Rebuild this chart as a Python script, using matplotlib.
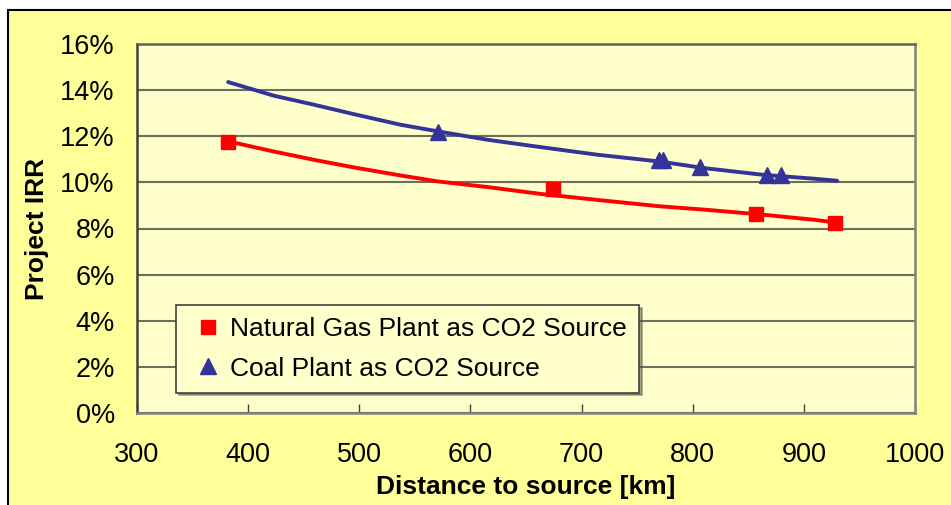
import matplotlib
matplotlib.use("Agg")
import matplotlib.pyplot as plt
from matplotlib.patches import Rectangle
from matplotlib.ticker import FuncFormatter, MultipleLocator

plt.rcParams['font.family'] = ['Liberation Sans', 'DejaVu Sans']

# Fitted curves
curve_km = [382, 423, 459, 495, 537, 571, 615, 663, 714, 771, 810, 863, 909, 930]
coal_curve = [14.35, 13.76, 13.37, 12.96, 12.50, 12.21, 11.85, 11.53, 11.20, 10.90, 10.62, 10.33, 10.16, 10.07]
gas_curve = [11.78, 11.34, 10.98, 10.65, 10.30, 10.04, 9.80, 9.50, 9.24, 8.96, 8.82, 8.60, 8.38, 8.25]

# Data points
gas_km = [382, 674, 857, 928]
gas_irr = [11.75, 9.73, 8.65, 8.24]
coal_km = [571, 770, 773, 807, 867, 879]
coal_irr = [12.20, 10.97, 10.97, 10.66, 10.30, 10.30]

series_labels = ["Natural Gas Plant as CO2 Source", "Coal Plant as CO2 Source"]
x_ticks = [300, 400, 500, 600, 700, 800, 900, 1000]

FS = 19.5
W, H = 951, 505
fig = plt.figure(figsize=(W / 100, H / 100), dpi=100, facecolor='white')

# Outer chart-area box
outer = Rectangle((8 / W, 0 - 0.01), 1.02, 1 - 10 / H + 0.01,
                  transform=fig.transFigure, facecolor='#FFFF99',
                  edgecolor='black', linewidth=1.5, zorder=-5)
fig.add_artist(outer)

ax = fig.add_axes([137 / W, 1 - 413 / H, (915 - 137) / W, (413 - 44) / H])
ax.set_zorder(2)
ax.set_facecolor('#FFFFCC')

red = '#FF0000'
blue = '#333399'

ax.plot(curve_km, coal_curve, color=blue, lw=2.8, zorder=3, solid_capstyle='round')
ax.plot(curve_km, gas_curve, color=red, lw=2.8, zorder=3, solid_capstyle='round')
ax.plot(gas_km, gas_irr, linestyle='none', marker='s', ms=10, color=red,
        label=series_labels[0], zorder=4)
ax.plot(coal_km, coal_irr, linestyle='none', marker='^', ms=11.5, color=blue,
        label=series_labels[1], zorder=4)

ax.set_xlim(300, 1000)
ax.set_ylim(0, 16)
ax.set_xticks(x_ticks)
ax.yaxis.set_major_locator(MultipleLocator(2))
ax.yaxis.set_major_formatter(FuncFormatter(lambda v, p: f"{v:.0f}%"))

ax.grid(axis='y', color='#6E6E5E', lw=1.5, zorder=1)
ax.set_axisbelow(True)

for s in ax.spines.values():
    s.set_color('#808080')
    s.set_linewidth(1.8)
ax.spines['left'].set_color('#404040')
ax.spines['top'].set_color('#606060')

ax.tick_params(axis='x', direction='in', length=6.5, width=1, color='#404040',
               labelsize=FS, pad=21)
ax.tick_params(axis='y', length=0, labelsize=FS, pad=16)

ax.set_xlabel("Distance to source [km]", fontsize=19, fontweight='bold', labelpad=5)
ax.set_ylabel("Project IRR", fontsize=19, fontweight='bold', labelpad=8)

leg = ax.legend(loc='upper left', bbox_to_anchor=((176 - 137) / (915 - 137), (413 - 305) / (413 - 44)),
                fontsize=19, frameon=True, fancybox=False, shadow=True,
                handletextpad=0.1, borderpad=0.45, labelspacing=0.6,
                markerscale=1.0, handlelength=1.5, borderaxespad=0)
leg.get_frame().set_facecolor('#FFFFCC')
leg.get_frame().set_edgecolor('#404040')
leg.get_frame().set_linewidth(1.2)
leg.get_frame().set_alpha(1)

fig.savefig("out.png", dpi=100, facecolor='white')
